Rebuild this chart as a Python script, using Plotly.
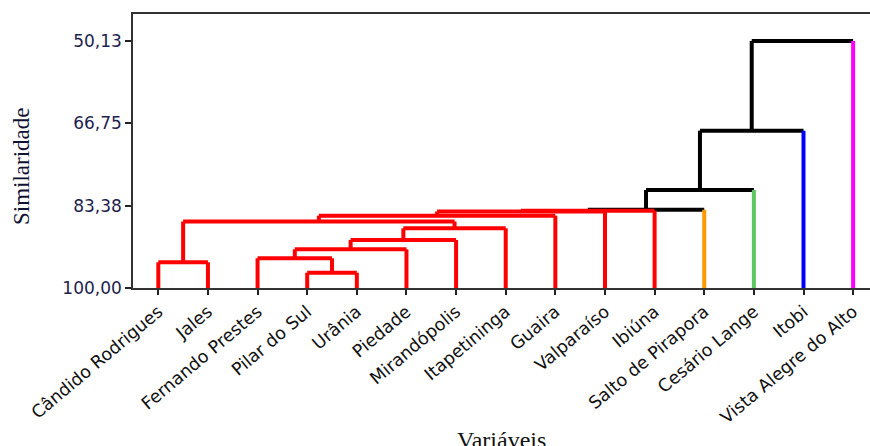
import plotly.graph_objects as go

# Leaves (left to right)
labels = ["Cândido Rodrigues", "Jales", "Fernando Prestes", "Pilar do Sul", "Urânia",
          "Piedade", "Mirandópolis", "Itapetininga", "Guaira", "Valparaíso", "Ibiúna",
          "Salto de Pirapora", "Cesário Lange", "Itobi", "Vista Alegre do Alto"]
leaf_colors = ["red"] * 11 + ["orange", "green", "blue", "magenta"]

# Merges: (left child, right child); new cluster ids start at len(labels)
merge_left = [3, 0, 2, 17, 18, 19, 16, 21, 22, 23, 24, 25, 26, 27]
merge_right = [4, 1, 15, 5, 6, 7, 20, 8, 9, 10, 11, 12, 13, 14]
merge_height = [96.91, 94.81, 94.00, 92.19, 90.31, 87.95, 86.57, 85.40, 84.55, 84.40,
                84.20, 80.21, 68.24, 50.13]
merge_color = ["red"] * 10 + ["black"] * 4

y_tickvals = [50.13, 66.75, 83.38, 100.00]
y_ticktext = ["50,13", "66,75", "83,38", "100,00"]

palette = {"red": "#ff0000", "orange": "#ff9900", "green": "#5fc75f",
           "blue": "#0000ff", "magenta": "#ff00ff", "black": "#000000"}

n = len(labels)
pos = {i: i + 1 for i in range(n)}
hgt = {i: 100.0 for i in range(n)}
segs = {c: ([], []) for c in palette}

def add(c, xs, ys):
    segs[c][0].extend(xs + [None])
    segs[c][1].extend(ys + [None])

for k, (a, b) in enumerate(zip(merge_left, merge_right)):
    nid = n + k
    h = merge_height[k]
    c = merge_color[k]
    ca = leaf_colors[a] if a < n else c
    cb = leaf_colors[b] if b < n else c
    add(ca, [pos[a], pos[a]], [hgt[a], h])
    add(cb, [pos[b], pos[b]], [hgt[b], h])
    add(c, [pos[a], pos[b]], [h, h])
    pos[nid] = (pos[a] + pos[b]) / 2
    hgt[nid] = h

fig = go.Figure()
order = ["black", "red", "orange", "green", "blue", "magenta"]
for c in order:
    xs, ys = segs[c]
    if xs:
        fig.add_trace(go.Scatter(x=xs, y=ys, mode="lines",
                                 line=dict(color=palette[c], width=4),
                                 hoverinfo="skip", showlegend=False))

fig.update_layout(
    width=870, height=446,
    margin=dict(l=133, r=0, t=14, b=158),
    paper_bgcolor="white", plot_bgcolor="white",
    showlegend=False,
)
fig.update_xaxes(
    automargin=False,
    range=[0.49, 15.34],
    tickvals=list(range(1, n + 1)), ticktext=labels, tickangle=-40,
    tickfont=dict(family="DejaVu Sans", size=17.5, color="#111111"),
    ticks="outside", ticklen=5, tickcolor="#222", tickwidth=1.5,
    showline=True, linecolor="#333", linewidth=1.5, mirror=True,
    showgrid=False, zeroline=False,
)
fig.update_yaxes(
    automargin=False,
    range=[100, 44.68],
    tickvals=y_tickvals, ticktext=y_ticktext,
    tickfont=dict(family="DejaVu Sans", size=17, color="#1e1e50"),
    ticks="outside", ticklen=6, tickcolor="#222", tickwidth=1.5,
    showline=True, linecolor="#333", linewidth=1.5, mirror=False,
    showgrid=False, zeroline=False,
)
fig.add_annotation(text="Similaridade", xref="paper", yref="paper",
                   x=0, y=0.5, xshift=-112, yshift=-15, textangle=-90,
                   showarrow=False, xanchor="center", yanchor="middle",
                   font=dict(family="Liberation Serif", size=23, color="#111133"))
fig.add_annotation(text="Variáveis", xref="paper", yref="paper",
                   x=0.5, y=0, yshift=-137, showarrow=False,
                   xanchor="center", yanchor="top",
                   font=dict(family="Liberation Serif", size=24, color="#111111"))

fig.write_html("out.html", config={"displayModeBar": False},
               post_script="document.body.style.margin='0px';document.body.style.overflow='hidden';")
